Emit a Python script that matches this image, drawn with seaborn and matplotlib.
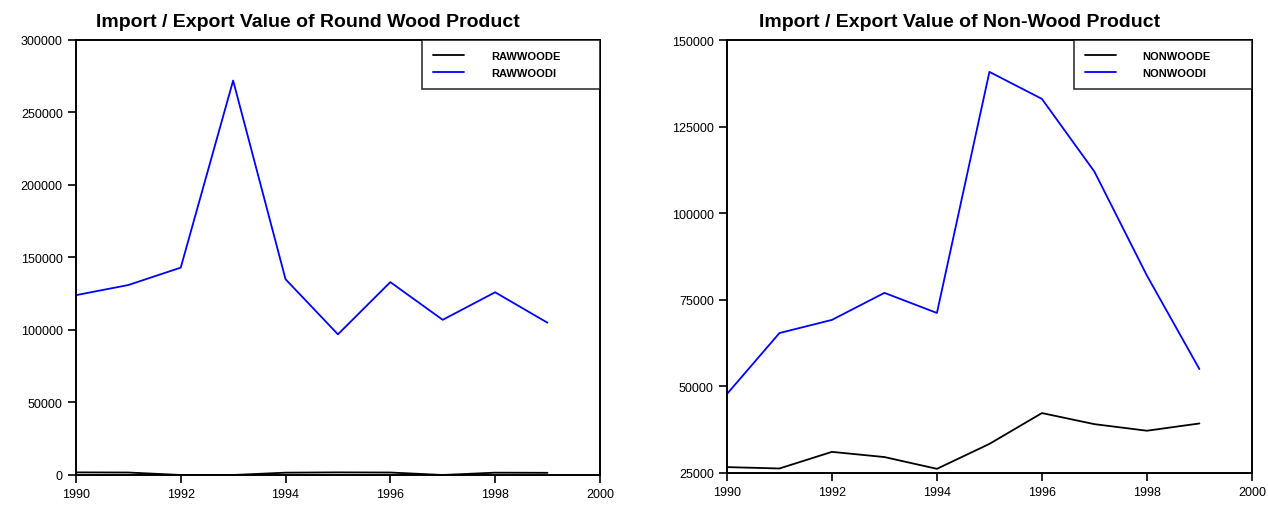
import numpy as np
import pandas as pd
import matplotlib
matplotlib.use('Agg')
import matplotlib.pyplot as plt
import seaborn as sns

# data
years = [1990, 1991, 1992, 1993, 1994, 1995, 1996, 1997, 1998, 1999]
rawwoode = [1800, 1700, 0, 0, 1600, 1800, 1700, 0, 1600, 1500]
rawwoodi = [124000, 131000, 143000, 272000, 135000, 97000, 133000, 107000, 126000, 105000]
nonwoode = [26700, 26300, 31100, 29600, 26200, 33400, 42300, 39100, 37200, 39300]
nonwoodi = [47800, 65400, 69200, 77000, 71200, 140800, 133000, 112000, 82000, 55000]

sns.set_style('ticks')
plt.rcParams['font.family'] = ['Liberation Sans Narrow', 'Liberation Sans', 'DejaVu Sans']
plt.rcParams['text.color'] = 'black'
plt.rcParams['xtick.color'] = 'black'
plt.rcParams['ytick.color'] = 'black'

round_df = pd.DataFrame({'Year': years * 2,
                         'Value': rawwoode + rawwoodi,
                         'Series': ['RAWWOODE'] * 10 + ['RAWWOODI'] * 10})
non_df = pd.DataFrame({'Year': years * 2,
                       'Value': nonwoode + nonwoodi,
                       'Series': ['NONWOODE'] * 10 + ['NONWOODI'] * 10})

fig = plt.figure(figsize=(12.68, 5.10), dpi=100)
ax1 = fig.add_axes([0.0599, 0.0667, 0.4132, 0.853])
ax2 = fig.add_axes([0.5733, 0.0706, 0.414, 0.849])

panels = [
    (ax1, round_df, ['RAWWOODE', 'RAWWOODI'], 'Import / Export Value of Round Wood Product',
     (0, 300000), np.arange(0, 300001, 50000)),
    (ax2, non_df, ['NONWOODE', 'NONWOODI'], 'Import / Export Value of Non-Wood Product',
     (25000, 150000), np.arange(25000, 150001, 25000)),
]

for ax, df, names, title, ylim, yticks in panels:
    sns.lineplot(data=df, x='Year', y='Value', hue='Series', hue_order=names,
                 palette={names[0]: 'black', names[1]: 'blue'}, linewidth=1.3, ax=ax)
    ax.set_xlim(1990, 2000)
    ax.set_ylim(*ylim)
    ax.set_xticks(np.arange(1990, 2001, 2))
    ax.set_yticks(yticks)
    ax.set_xlabel('')
    ax.set_ylabel('')
    ax.set_title(title, fontsize=14, fontweight='bold', pad=10, x=0.443, color='black')
    for s in ax.spines.values():
        s.set_linewidth(1.4)
        s.set_color('black')
    ax.tick_params(axis='both', labelsize=9, width=1.2, length=6, direction='out')
    # legend box ~178 px wide, flush with the top-right corner
    w = 178 / 524
    leg = ax.legend(loc='upper right', bbox_to_anchor=(1 - w, 0, w, 1), mode='expand',
                    borderaxespad=0, fancybox=False, frameon=True,
                    edgecolor='black', fontsize=8, handlelength=2.8, handletextpad=2.4,
                    borderpad=1.0, labelspacing=0.65)
    leg.get_frame().set_linewidth(1.2)
    for t in leg.get_texts():
        t.set_fontweight('bold')

fig.savefig('out.png', dpi=100)
